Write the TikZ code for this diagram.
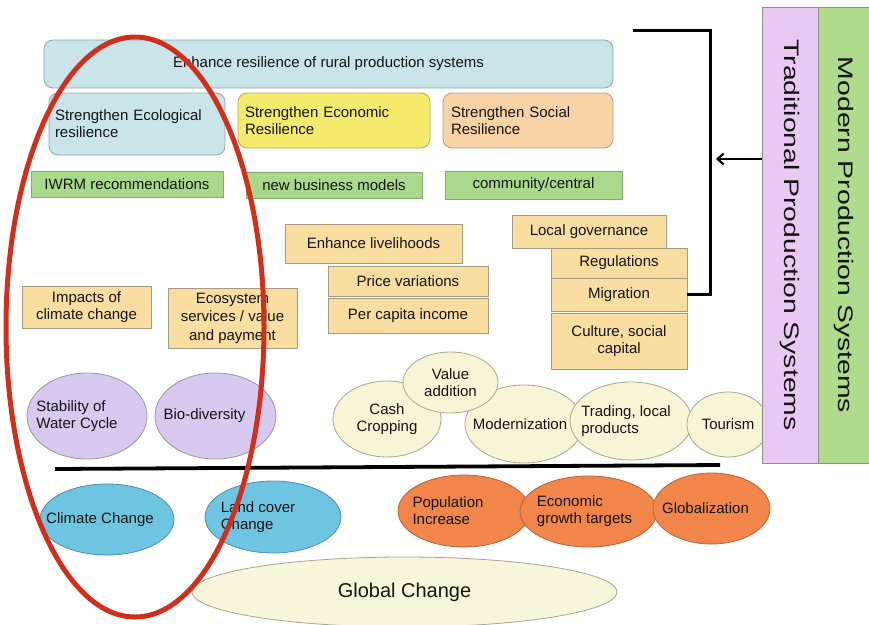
\documentclass[tikz,border=0pt]{standalone}
\usepackage{fontspec}
\usepackage{graphicx}
\setmainfont{Liberation Sans}
\usetikzlibrary{shapes.geometric,arrows.meta}

\definecolor{skyfill}{HTML}{C9E5EA}
\definecolor{skyline}{HTML}{8EA7AB}
\definecolor{yelfill}{HTML}{F4EA6C}
\definecolor{yelline}{HTML}{B9AC55}
\definecolor{peachfill}{HTML}{F9D3A5}
\definecolor{peachline}{HTML}{B59E80}
\definecolor{leaf}{HTML}{A9DA8B}
\definecolor{leafline}{HTML}{86A774}
\definecolor{tanfill}{HTML}{F9DDA1}
\definecolor{tanline}{HTML}{A59B84}
\definecolor{lilac}{HTML}{D7C9F0}
\definecolor{lilacline}{HTML}{9A92AA}
\definecolor{cream}{HTML}{F8F5D7}
\definecolor{creamline}{HTML}{A8A68E}
\definecolor{skyblue}{HTML}{6EC5E2}
\definecolor{skyblueline}{HTML}{4E8FA6}
\definecolor{rust}{HTML}{F1854A}
\definecolor{rustline}{HTML}{B3643A}
\definecolor{globfill}{HTML}{F7F6DA}
\definecolor{pinkband}{HTML}{E9C9F1}
\definecolor{greenband}{HTML}{AEDC8C}
\definecolor{bandline}{HTML}{8E8E8E}
\definecolor{hilite}{HTML}{D12E1C}

\tikzset{
  txt/.style={font=\fontsize{15}{17}\selectfont, text=black!92, inner sep=0pt},
  rbox/.style={txt, rectangle, rounded corners=9pt, line width=0.8pt},
  sbox/.style={txt, rectangle, line width=0.8pt, align=center},
  greenbox/.style={sbox, fill=leaf, draw=leafline},
  tanbox/.style={sbox, fill=tanfill, draw=tanline},
  oval/.style={txt, ellipse, line width=0.8pt, align=center},
  lbl/.style={txt, align=left},
  band/.style={rectangle, line width=0.8pt, draw=bandline, inner sep=0pt,
    rotate=-90, font=\fontsize{21}{24}\selectfont, text=black!92},
  conn/.style={line width=3pt, black},
}

\begin{document}
\begin{tikzpicture}[x=1pt,y=-1pt]
\useasboundingbox (0,0) rectangle (869,624);
\clip (0,0) rectangle (869,624);
\fill[white] (0,0) rectangle (869,624);

% resilience goals
\node[rbox, fill=skyfill, draw=skyline, minimum width=569, minimum height=48]
  (goal) at (328.5,64) {Enhance resilience of rural production systems};
\node[rbox, fill=skyfill, draw=skyline, minimum width=176, minimum height=62,
  text width=164, inner xsep=6pt, align=left]
  (eco) at (137,124) {Strengthen Ecological\\resilience};
\node[rbox, fill=yelfill, draw=yelline, minimum width=192, minimum height=55,
  text width=178, inner xsep=7pt, align=left]
  (econ) at (334,120.5) {Strengthen Economic\\Resilience};
\node[rbox, fill=peachfill, draw=peachline, minimum width=170, minimum height=55,
  text width=154, inner xsep=8pt, align=left]
  (soc) at (528,120.5) {Strengthen Social\\Resilience};

% instruments
\node[greenbox, minimum width=192, minimum height=26] (iwrm) at (127,184.5) {IWRM recommendations};
\node[greenbox, minimum width=176, minimum height=26] (biz) at (334,185) {new business models};
\node[greenbox, minimum width=177, minimum height=28] (comm) at (533.5,185) {community/central};

% drivers and concerns
\node[tanbox, minimum width=129, minimum height=42] (impacts) at (86.5,307) {Impacts of\\climate change};
\node[tanbox, minimum width=129, minimum height=60, font=\fontsize{15}{18.5}\selectfont]
  (ecosys) at (232.5,318) {Ecosystem\\services / value\\and payment};
\node[tanbox, minimum width=177, minimum height=39] (liveli) at (373.5,243.5) {Enhance livelihoods};
\node[tanbox, minimum width=160, minimum height=30] (price) at (408,281) {Price variations};
\node[tanbox, minimum width=160, minimum height=35] (percap) at (408,315.5) {Per capita income};
\node[tanbox, minimum width=154, minimum height=33] (localgov) at (589,231.5) {Local governance};
\node[tanbox, minimum width=136, minimum height=30] (regs) at (619,263) {Regulations};
\node[tanbox, minimum width=136, minimum height=33] (migr) at (619,294.5) {Migration};
\node[tanbox, minimum width=136, minimum height=56] (culture) at (619,341) {Culture, social\\capital};

% ecological and economic features
\node[oval, fill=lilac, draw=lilacline, minimum width=120, minimum height=86,
  label={[lbl, xshift=-10pt]center:Stability of\\Water Cycle}] (water) at (87,416) {};
\node[oval, fill=lilac, draw=lilacline, minimum width=121, minimum height=86,
  label={[lbl, xshift=-11pt]center:Bio-diversity}] (bio) at (215.5,416) {};
\node[oval, fill=cream, draw=creamline, minimum width=108, minimum height=76] (cash) at (387,419) {Cash\\Cropping};
\node[oval, fill=cream, draw=creamline, minimum width=118, minimum height=78,
  label={[lbl, xshift=-4pt]center:Modernization}] (modern) at (524,424) {};
\node[oval, fill=cream, draw=creamline, minimum width=95, minimum height=61] (value) at (450.5,382.5) {Value\\addition};
\node[oval, fill=cream, draw=creamline, minimum width=122, minimum height=78,
  label={[lbl, xshift=-5pt]center:Trading, local\\products}] (trading) at (631,421) {};
\node[oval, fill=cream, draw=creamline, minimum width=82, minimum height=65] (tourism) at (728,424.5) {Tourism};

% global drivers
\node[oval, fill=skyblue, draw=skyblueline, minimum width=134, minimum height=71,
  label={[lbl, xshift=-7pt]center:Climate Change}] (climate) at (107,519.5) {};
\node[oval, fill=skyblue, draw=skyblueline, minimum width=136, minimum height=72,
  label={[lbl, xshift=-15pt]center:Land cover\\Change}] (land) at (273,517) {};
\node[oval, fill=rust, draw=rustline, minimum width=132, minimum height=72,
  label={[lbl, xshift=-16pt]center:Population\\Increase}] (pop) at (464,511) {};
\node[oval, fill=rust, draw=rustline, minimum width=137, minimum height=71,
  label={[lbl, xshift=-4pt]center:Economic\\growth targets}] (egrowth) at (588.5,511.5) {};
\node[oval, fill=rust, draw=rustline, minimum width=117, minimum height=71,
  label={[lbl, xshift=-6pt]center:Globalization}] (globz) at (711.5,508.5) {};
\node[oval, fill=globfill, draw=creamline, minimum width=425, minimum height=70,
  font=\fontsize{20}{22}\selectfont] (global) at (404.5,592) {Global Change};

% production system bands
\node[band, fill=pinkband, minimum width=456, minimum height=56]
  (trad) at (790,235) {\scalebox{1.35}[1]{Traditional Production Systems}};
\node[band, fill=greenband, minimum width=456, minimum height=52]
  (modsys) at (844,235) {\scalebox{1.35}[1]{Modern Production Systems}};

% connectors
\coordinate (loopstart) at (633,30);
\coordinate (loopbend) at (710,30);
\draw[conn] (loopstart) -- (loopbend) |- (migr.east);
\coordinate (tip) at (716,159);
\draw[conn, line width=2.2pt, -{Straight Barb[length=6pt,width=11pt]}] (tip -| trad.south) -- (tip);

% divider between local and global scale
\coordinate (divl) at (55,469);
\coordinate (divr) at (720,465);
\draw[line width=3.8pt] (divl) -- (divr);

% highlight of the ecological column
\draw[hilite, line width=5pt] (135,327) ellipse [x radius=129, y radius=290];
\end{tikzpicture}
\end{document}
